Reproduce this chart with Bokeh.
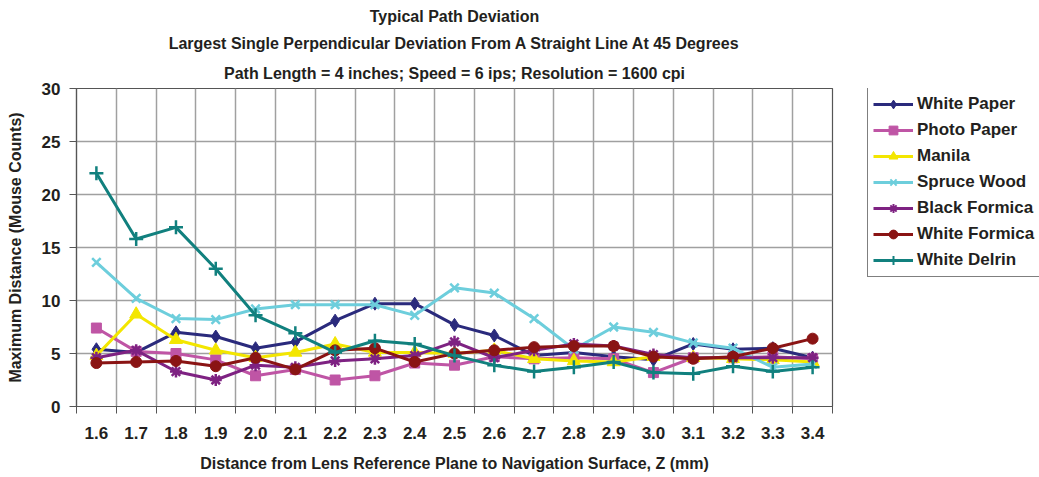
from bokeh.plotting import figure
from bokeh.layouts import row
from bokeh.models import (FactorRange, Range1d, LinearAxis, FixedTicker,
                          Legend, LegendItem, Title, ColumnDataSource, Grid)
from bokeh.embed import file_html
from bokeh.resources import INLINE

distances = ["1.6", "1.7", "1.8", "1.9", "2.0", "2.1", "2.2", "2.3", "2.4", "2.5",
             "2.6", "2.7", "2.8", "2.9", "3.0", "3.1", "3.2", "3.3", "3.4"]

white_paper   = [5.4, 5.1, 7.0, 6.6, 5.5, 6.1, 8.1, 9.7, 9.7, 7.7, 6.7, 4.8, 5.1, 4.7, 4.4, 5.9, 5.4, 5.5, 4.6]
photo_paper   = [7.4, 5.2, 5.0, 4.4, 2.9, 3.5, 2.5, 2.9, 4.1, 3.9, 4.7, 4.5, 4.6, 4.5, 3.2, 4.6, 4.6, 4.7, 4.5]
manila        = [4.8, 8.7, 6.3, 5.3, 4.6, 5.1, 5.9, 5.1, 5.1, 5.0, 5.3, 4.5, 4.3, 4.2, 4.7, 4.6, 4.5, 4.4, 4.2]
spruce_wood   = [13.6, 10.2, 8.3, 8.2, 9.2, 9.6, 9.6, 9.6, 8.6, 11.2, 10.7, 8.3, 5.4, 7.5, 7.0, 6.0, 5.5, 3.7, 4.0]
black_formica = [4.6, 5.3, 3.3, 2.5, 3.9, 3.7, 4.3, 4.5, 4.8, 6.1, 4.6, 5.3, 5.9, 5.7, 4.9, 4.6, 4.6, 4.6, 4.6]
white_formica = [4.1, 4.2, 4.3, 3.8, 4.6, 3.5, 5.3, 5.5, 4.2, 5.0, 5.3, 5.6, 5.7, 5.7, 4.7, 4.5, 4.7, 5.5, 6.4]
white_delrin  = [22.0, 15.8, 16.9, 13.0, 8.6, 6.9, 5.1, 6.2, 5.9, 4.8, 3.9, 3.3, 3.7, 4.2, 3.2, 3.1, 3.8, 3.3, 3.7]

series_names = ["White Paper", "Photo Paper", "Manila", "Spruce Wood",
                "Black Formica", "White Formica", "White Delrin"]
series_values = [white_paper, photo_paper, manila, spruce_wood,
                 black_formica, white_formica, white_delrin]

y_ticks = [0, 5, 10, 15, 20, 25, 30]

title_lines = ["Typical Path Deviation",
               "Largest Single Perpendicular Deviation From A Straight Line At 45 Degrees",
               "Path Length = 4 inches; Speed = 6 ips; Resolution = 1600 cpi"]

colors = ["#2A2A7C", "#BF55A5", "#F3E600", "#6DCEDC", "#7E2282", "#8A1414", "#11807E"]
markers = ["diamond", "square", "triangle", "x", "asterisk", "circle", "cross"]
sizes = [13, 10, 13, 12, 12, 11, 14]

FONT = "Liberation Sans"
TXT = "#231F20"
AX = "#555555"

# ---------------- main chart ----------------
p = figure(width=834, height=477, output_backend="svg", toolbar_location=None,
           x_range=FactorRange(factors=distances), y_range=Range1d(0, 30),
           x_axis_type=None, y_axis_type=None,
           min_border_left=76, min_border_right=2, min_border_top=88, min_border_bottom=71)
p.outline_line_color = AX
p.outline_line_width = 1.2
p.background_fill_color = "white"
p.border_fill_color = "white"

# category centres carry the labels, category boundaries carry the tick marks
centres = [i + 0.5 for i in range(len(distances))]
boundaries = list(range(len(distances) + 1))

x_ax = LinearAxis(ticker=FixedTicker(ticks=centres, minor_ticks=boundaries),
                  major_label_overrides=dict(zip(centres, distances)),
                  major_tick_out=0, major_tick_in=0, minor_tick_out=7, minor_tick_in=0,
                  axis_line_color=AX, minor_tick_line_color=AX, axis_line_width=1.2,
                  major_label_standoff=13,
                  major_label_text_font=FONT, major_label_text_font_style="bold",
                  major_label_text_font_size="17px", major_label_text_color=TXT,
                  axis_label="Distance from Lens Reference Plane to Navigation Surface, Z (mm)",
                  axis_label_text_font=FONT, axis_label_text_font_style="bold",
                  axis_label_text_font_size="16px", axis_label_text_color=TXT,
                  axis_label_standoff=13)
p.add_layout(x_ax, "below")

y_ax = LinearAxis(ticker=FixedTicker(ticks=y_ticks),
                  major_tick_out=7, major_tick_in=0, minor_tick_out=0, minor_tick_in=0,
                  axis_line_color=AX, major_tick_line_color=AX, axis_line_width=1.2,
                  major_label_standoff=9,
                  major_label_text_font=FONT, major_label_text_font_style="bold",
                  major_label_text_font_size="17px", major_label_text_color=TXT,
                  axis_label="Maximum Distance (Mouse Counts)",
                  axis_label_text_font=FONT, axis_label_text_font_style="bold",
                  axis_label_text_font_size="16px", axis_label_text_color=TXT,
                  axis_label_standoff=15)
p.add_layout(y_ax, "left")

p.add_layout(Grid(dimension=0, ticker=FixedTicker(ticks=boundaries),
                  grid_line_color="#A0A0A0", grid_line_width=1.5))
p.add_layout(Grid(dimension=1, ticker=FixedTicker(ticks=y_ticks),
                  grid_line_color="#A0A0A0", grid_line_width=1.5))

sources = []
for name, vals, col, mk, sz in zip(series_names, series_values, colors, markers, sizes):
    src = ColumnDataSource(dict(x=distances, y=vals))
    sources.append(src)
    p.line("x", "y", source=src, line_color=col, line_width=3)
    lw = 2.5 if mk in ("x", "asterisk", "cross") else 1
    p.scatter("x", "y", source=src, marker=mk, size=sz,
              fill_color=col, line_color=col, line_width=lw)

# title lines stacked outward from the frame: last line first
for i, t in enumerate(reversed(title_lines)):
    p.add_layout(Title(text=t, align="center", text_font=FONT, text_font_style="bold",
                       text_font_size="16px", text_color=TXT,
                       standoff=14 if i == 0 else 8), "above")

# ---------------- legend panel ----------------
# same series, plotted on a y window above the data so only the legend shows
lf = figure(width=205, height=477, output_backend="svg", toolbar_location=None,
            x_range=FactorRange(factors=distances), y_range=Range1d(100, 130),
            x_axis_type=None, y_axis_type=None, min_border=0)
lf.outline_line_color = None
lf.background_fill_color = "white"
lf.border_fill_color = "white"

items = []
for name, src, col, mk in zip(series_names, sources, colors, markers):
    lr = lf.line("x", "y", source=src, line_color=col, line_width=3)
    lw = 2 if mk in ("x", "asterisk", "cross") else 1
    sr = lf.scatter("x", "y", source=src, marker=mk, size=10,
                    fill_color=col, line_color=col, line_width=lw)
    items.append(LegendItem(label=name, renderers=[lr, sr]))

legend = Legend(items=items, location=(33, 129), padding=5, spacing=4, margin=0,
                glyph_width=40, glyph_height=22, label_height=22, label_standoff=4,
                label_text_font=FONT, label_text_font_style="bold",
                label_text_font_size="17px", label_text_color=TXT,
                border_line_color="black", border_line_width=1.5,
                background_fill_color="white", background_fill_alpha=1.0)
lf.add_layout(legend)

layout = row(p, lf)
open("out.html", "w").write(file_html(layout, INLINE))
